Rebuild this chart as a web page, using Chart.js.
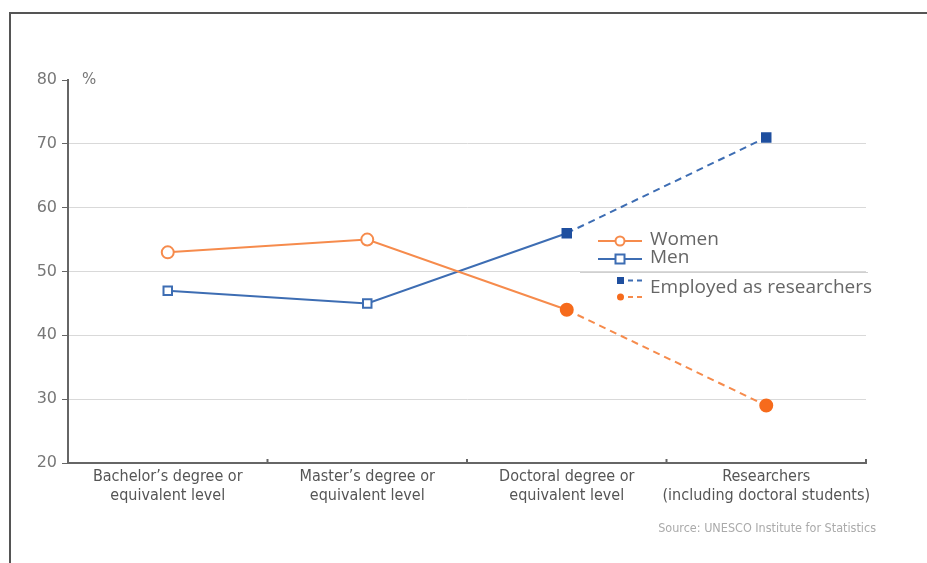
<!DOCTYPE html>
<html>
<head>
<meta charset="utf-8">
<script src="https://cdn.jsdelivr.net/npm/chart.js@4/dist/chart.umd.min.js"></script>
<style>
  html, body { margin: 0; padding: 0; background: #fff; }
  #wrap { position: relative; width: 927px; height: 563px; overflow: hidden; }
  #frame { position: absolute; left: 9px; top: 12px; width: 930px; height: 560px;
           border-top: 2px solid #555; border-left: 2px solid #555; }
  canvas { position: absolute; left: 0; top: 0; }
</style>
</head>
<body>
<div id="wrap">
  <div id="frame"></div>
  <canvas id="chart" width="927" height="563"></canvas>
</div>
<script>
const categories = [
    ["Bachelor\u2019s degree or", "equivalent level"],
    ["Master\u2019s degree or", "equivalent level"],
    ["Doctoral degree or", "equivalent level"],
    ["Researchers", "(including doctoral students)"]
];
const women = [53, 55, 44, 29];
const men = [47, 45, 56, 71];
const yTicks = [20, 30, 40, 50, 60, 70, 80];

const orange = "#f68b4c";
const orangeFill = "#f66b1c";
const blue = "#3d6db3";
const blueFill = "#1f4f9f";
const condensed = "'Liberation Sans Narrow', 'DejaVu Sans Condensed', sans-serif";

// last segment (doctoral -> researchers) is dashed
const dashLast = ctx => ctx.p0DataIndex === 2 ? [7, 5] : undefined;

const extras = {
    id: "extras",
    afterDraw(chart) {
        const c = chart.ctx;
        const area = chart.chartArea;
        const x = chart.scales.x;
        c.save();

        // small upward ticks on the x axis at category boundaries
        c.strokeStyle = "#666";
        c.lineWidth = 2;
        const step = x.getPixelForValue(1) - x.getPixelForValue(0);
        for (let i = 0; i < categories.length; i++) {
            const px = x.getPixelForValue(i) + step / 2;
            c.beginPath();
            c.moveTo(px, area.bottom);
            c.lineTo(px, area.bottom - 4);
            c.stroke();
        }

        // % unit
        c.fillStyle = "#777";
        c.font = "15px 'DejaVu Sans', sans-serif";
        c.textBaseline = "middle";
        c.fillText("%", area.left + 14, area.top);

        // legend
        c.font = "19px 'Open Sans', sans-serif";
        c.lineWidth = 2;
        c.strokeStyle = orange;
        c.beginPath(); c.moveTo(598, 241); c.lineTo(642, 241); c.stroke();
        c.fillStyle = "#fff";
        c.beginPath(); c.arc(620, 241, 4.5, 0, Math.PI * 2); c.fill(); c.stroke();
        c.strokeStyle = blue;
        c.beginPath(); c.moveTo(598, 259); c.lineTo(642, 259); c.stroke();
        c.fillRect(615.5, 254.5, 9, 9); c.strokeRect(615.5, 254.5, 9, 9);

        c.strokeStyle = "#d0d0d0";
        c.lineWidth = 1;
        c.beginPath(); c.moveTo(580, 272.5); c.lineTo(868, 272.5); c.stroke();

        c.setLineDash([5, 4]);
        c.lineWidth = 2;
        c.fillStyle = blueFill;
        c.fillRect(617, 277, 7, 7);
        c.strokeStyle = blue;
        c.beginPath(); c.moveTo(628, 280.5); c.lineTo(644, 280.5); c.stroke();
        c.fillStyle = orangeFill;
        c.beginPath(); c.arc(620.5, 297, 3.5, 0, Math.PI * 2); c.fill();
        c.strokeStyle = orange;
        c.beginPath(); c.moveTo(628, 297); c.lineTo(644, 297); c.stroke();
        c.setLineDash([]);

        c.fillStyle = "#666";
        c.fillText("Women", 650, 240);
        c.fillText("Men", 650, 258);
        c.fillText("Employed as researchers", 650, 288);

        // source
        c.fillStyle = "#aaa";
        c.font = "12.5px " + condensed;
        c.textAlign = "right";
        c.fillText("Source: UNESCO Institute for Statistics", 876, 529);
        c.restore();
    }
};

const pointFill = fill => ["#fff", "#fff", fill, fill];

new Chart(document.getElementById("chart"), {
    type: "line",
    data: {
        labels: categories,
        datasets: [{
            label: "Women",
            data: women,
            borderColor: orange,
            borderWidth: 2,
            pointStyle: "circle",
            pointRadius: 6,
            pointBorderWidth: 2,
            pointBorderColor: [orange, orange, orangeFill, orangeFill],
            pointBackgroundColor: pointFill(orangeFill),
            segment: { borderDash: dashLast }
        }, {
            label: "Men",
            data: men,
            borderColor: blue,
            borderWidth: 2,
            pointStyle: "rect",
            pointRadius: 6,
            pointBorderWidth: 2,
            pointBorderColor: [blue, blue, blueFill, blueFill],
            pointBackgroundColor: pointFill(blueFill),
            segment: { borderDash: dashLast }
        }]
    },
    options: {
        responsive: false,
        animation: false,
        layout: { padding: { left: 28, right: 61, top: 80, bottom: 40 } },
        plugins: { legend: { display: false }, tooltip: { enabled: false } },
        scales: {
            x: {
                offset: true,
                grid: { display: false },
                border: { color: "#666", width: 2 },
                ticks: { color: "#555", font: { family: condensed, size: 16 }, padding: -4, maxRotation: 0, autoSkip: false },
                afterFit: s => { s.height = 60; }
            },
            y: {
                min: 20,
                max: 80,
                afterBuildTicks: s => { s.ticks = yTicks.map(v => ({ value: v })); },
                border: { color: "#666", width: 2 },
                grid: {
                    color: ctx => (ctx.tick && (ctx.tick.value === 20 || ctx.tick.value === 80)) ? "rgba(0,0,0,0)" : "#d9d9d9",
                    tickColor: "#666",
                    tickLength: 6,
                    lineWidth: 1
                },
                ticks: { color: "#777", font: { family: "'DejaVu Sans', sans-serif", size: 16 }, padding: 5 },
                afterFit: s => { s.width = 40; }
            }
        }
    },
    plugins: [extras]
});
</script>
</body>
</html>
